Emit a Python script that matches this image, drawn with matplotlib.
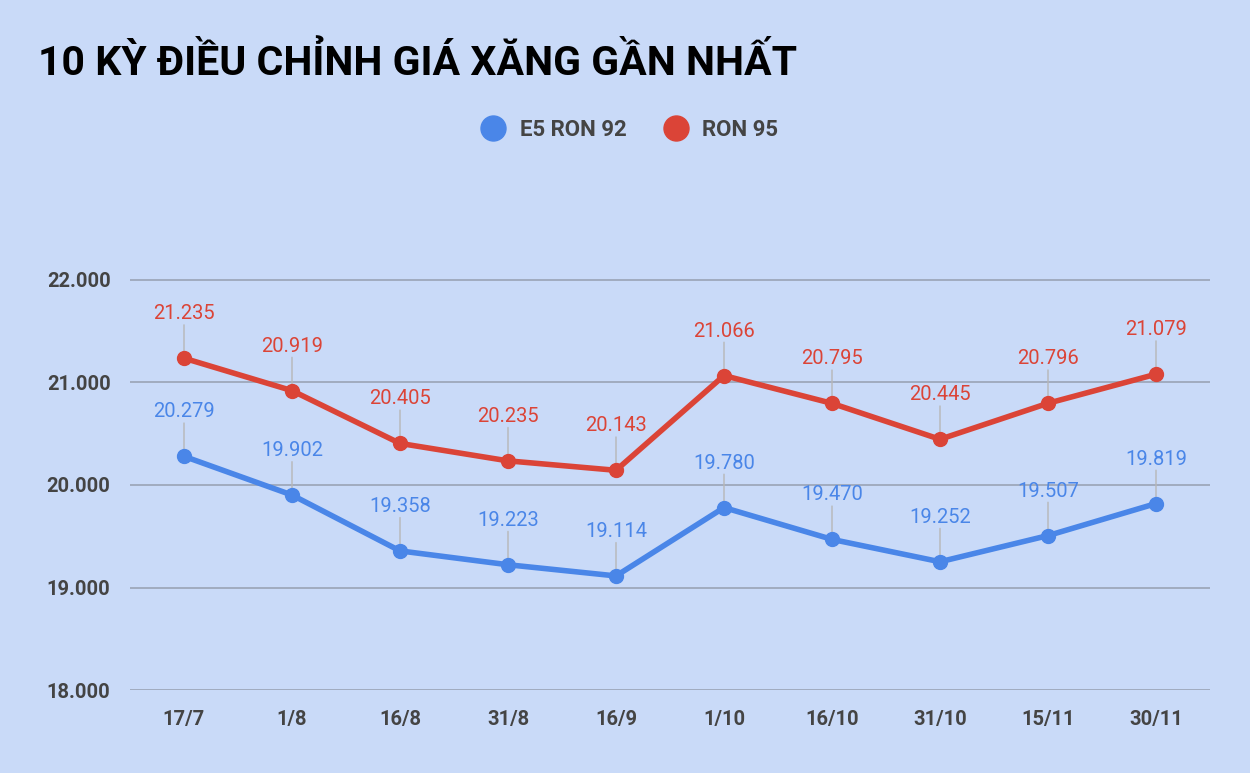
import matplotlib.pyplot as plt
import matplotlib.ticker as mticker

plt.rcParams["font.family"] = ["Roboto", "DejaVu Sans"]

dates = ["17/7", "1/8", "16/8", "31/8", "16/9", "1/10", "16/10", "31/10", "15/11", "30/11"]
e5_ron92 = [20279, 19902, 19358, 19223, 19114, 19780, 19470, 19252, 19507, 19819]
ron95 = [21235, 20919, 20405, 20235, 20143, 21066, 20795, 20445, 20796, 21079]

BG = "#c9daf8"
BLUE = "#4a86e8"
RED = "#db4437"


def fmt(v):
    return f"{v:,.0f}".replace(",", ".")


fig = plt.figure(figsize=(12.5, 7.73), dpi=100, facecolor=BG)
ax = fig.add_axes([0.104, 0.107, 0.864, 0.664], facecolor=BG)

x = range(len(dates))
for vals, color, name in [(e5_ron92, BLUE, "E5 RON 92"), (ron95, RED, "RON 95")]:
    ax.plot(x, vals, color=color, lw=4, marker="o", ms=10, label=name, zorder=3)
    for xi, v in zip(x, vals):
        ax.annotate("", xy=(xi, v), xytext=(0, 24), textcoords="offset points",
                    arrowprops=dict(arrowstyle="-", color="#b7b7b7", lw=1, shrinkA=0, shrinkB=0),
                    zorder=2)
        ax.annotate(fmt(v), xy=(xi, v), xytext=(0, 32), textcoords="offset points",
                    ha="center", va="center", fontsize=14.5, color=color)

ax.set_ylim(18000, 23000)
ax.set_xlim(-0.5, len(dates) - 0.5)
ax.set_yticks([18000, 19000, 20000, 21000, 22000])
ax.yaxis.set_major_formatter(mticker.FuncFormatter(lambda v, p: fmt(v)))
ax.set_xticks(list(x))
ax.set_xticklabels(dates)
ax.grid(axis="y", color="#9aa3b5", lw=1.2)
ax.set_axisbelow(True)
for s in ax.spines.values():
    s.set_visible(False)
ax.tick_params(length=0, labelsize=14.5, labelcolor="#444444", pad=14)
for lab in ax.get_xticklabels() + ax.get_yticklabels():
    lab.set_fontweight("bold")

fig.text(0.03, 0.918, "10 KỲ ĐIỀU CHỈNH GIÁ XĂNG GẦN NHẤT", fontsize=29.5,
         fontweight="bold", color="black", va="center")
leg = fig.legend(loc="center", bbox_to_anchor=(0.505, 0.832), ncol=2, frameon=False,
                 fontsize=16, handlelength=0.8, columnspacing=1.8, handletextpad=0.8)
for h in leg.legend_handles:
    h.set_linestyle("none")
    h.set_markersize(18)
for t in leg.get_texts():
    t.set_fontweight("bold")
    t.set_color("#444444")

fig.savefig("out.png", dpi=100, facecolor=BG)
